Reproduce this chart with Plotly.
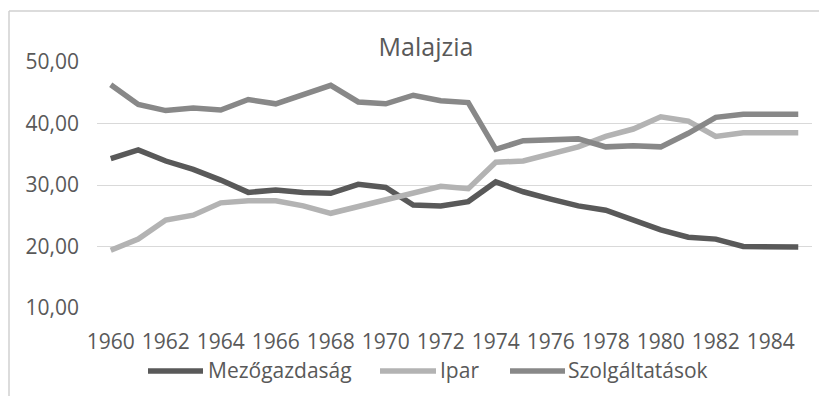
import plotly.graph_objects as go

years = list(range(1960, 1986))
mezogazdasag = [34.3, 35.7, 33.9, 32.55, 30.8, 28.8, 29.2, 28.8, 28.65, 30.1, 29.6,
                26.75, 26.6, 27.3, 30.5, 28.9, 27.7, 26.6, 25.9, 24.4, 22.7, 21.5, 21.2, 20.0, 20.0, 19.9]
ipar = [19.4, 21.2, 24.3, 25.1, 27.1, 27.45, 27.45, 26.6, 25.4, 26.5, 27.4,
        28.5, 29.8, 29.4, 33.7, 33.9, 35.0, 36.2, 37.9, 39.1, 41.1, 40.4, 37.9, 38.5, 38.5, 38.5]
szolgaltatasok = [46.3, 43.1, 42.1, 42.5, 42.2, 43.9, 43.2, 44.7, 46.2, 43.5, 43.2,
                  44.6, 43.7, 43.4, 35.8, 37.2, 37.3, 37.5, 36.2, 36.4, 36.2, 38.4, 41.0, 41.5, 41.5, 41.5]
series_names = ["Mezőgazdaság", "Ipar", "Szolgáltatások"]
series_colors = ["#595959", "#b3b3b3", "#888888"]
tick_vals = [10, 20, 30, 40, 50]
tick_text = ["10,00", "20,00", "30,00", "40,00", "50,00"]

FONT = "Open Sans"
TXT = "#595959"

# page body has an 8px default margin; work in page coords minus 8
OFF = 8
W, H = 827 - 2 * OFF, 404 - 2 * OFF
L, R, T, B = 97 - OFF, W - (812 - OFF), 62 - OFF, H - (308 - OFF)
pw, ph = W - L - R, H - T - B

def px_x(px):
    return (px - OFF - L) / pw

def px_y(py):
    return (H - B - (py - OFF)) / ph

fig = go.Figure()
for name, vals, col in zip(series_names, [mezogazdasag, ipar, szolgaltatasok], series_colors):
    fig.add_trace(go.Scatter(x=[str(y) for y in years], y=vals, mode="lines", name=name,
                             line=dict(color=col, width=5.5), showlegend=False))

fig.update_layout(
    width=W, height=H,
    margin=dict(l=L, r=R, t=T, b=B),
    paper_bgcolor="white", plot_bgcolor="white",
    font=dict(family=FONT, color=TXT, size=21),
    title=dict(text="Malajzia", x=(426 - OFF) / W, xanchor="center", y=1 - (47 - OFF) / H, yanchor="middle",
               font=dict(size=25, color=TXT, family=FONT)),
    xaxis=dict(type="category", showgrid=False, showline=False, zeroline=False,
               tickmode="array", tickvals=[str(y) for y in years[::2]],
               ticktext=[str(y) for y in years[::2]],
               tickfont=dict(size=21, color=TXT), ticks="", ticklabelstandoff=19,
               range=[-0.5, 25.5]),
    yaxis=dict(range=[10, 50], tickvals=tick_vals, ticktext=tick_text,
               showgrid=True, gridcolor="#d9d9d9", gridwidth=1.3, zeroline=False, showline=False,
               tickfont=dict(size=21, color=TXT), ticks="", ticklabelstandoff=17),
    showlegend=False,
)

# legend drawn in paper space
leg_y = 371
leg_items = [(148, 203, 206), (380, 436, 438), (510, 565, 566)]
for (x0, x1, xt), name, col in zip(leg_items, series_names, series_colors):
    fig.add_shape(type="line", xref="paper", yref="paper", x0=px_x(x0), x1=px_x(x1),
                  y0=px_y(leg_y), y1=px_y(leg_y), line=dict(color=col, width=5.5))
    fig.add_annotation(text=name, xref="paper", yref="paper", x=px_x(xt), y=px_y(leg_y - 1),
                       xanchor="left", yanchor="middle", showarrow=False,
                       font=dict(size=21, color=TXT, family=FONT))

# chart area border (top and left)
fig.add_shape(type="line", xref="paper", yref="paper", x0=px_x(9), x1=px_x(827), y0=px_y(11), y1=px_y(11),
              line=dict(color="#d0d0d0", width=1.5), layer="above")
fig.add_shape(type="line", xref="paper", yref="paper", x0=px_x(9), x1=px_x(9), y0=px_y(11), y1=px_y(404),
              line=dict(color="#d0d0d0", width=1.5), layer="above")

fig.write_html("out.html")
